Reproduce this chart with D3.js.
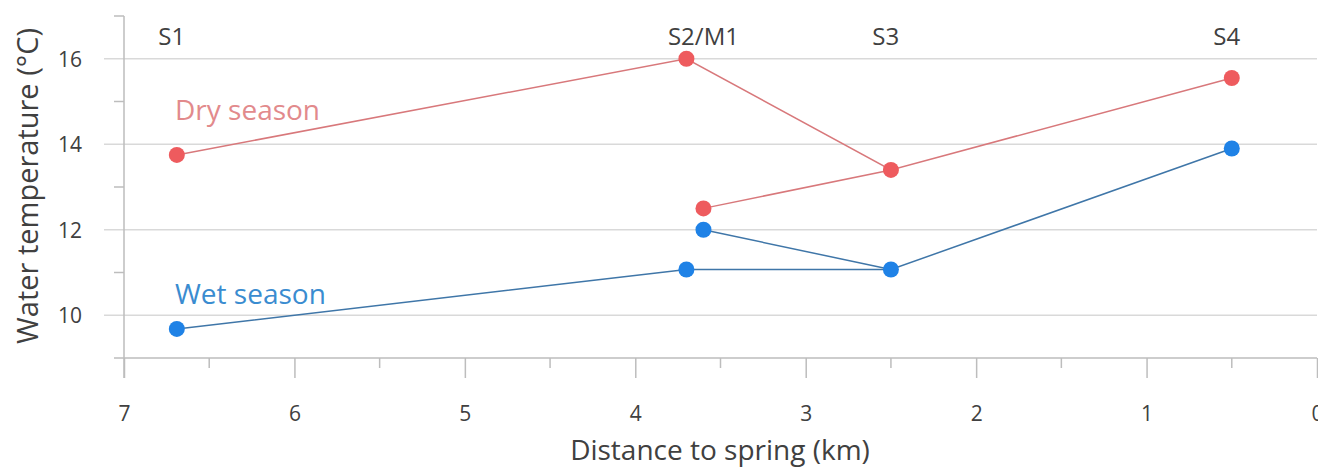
<!DOCTYPE html>
<html>
<head>
<meta charset="utf-8">
<script src="https://cdn.jsdelivr.net/npm/d3@7"></script>
<style>
  html, body { margin: 0; padding: 0; background: #fff; overflow: hidden; }
  svg { display: block; font-family: "Open Sans", Lato, sans-serif; }
</style>
</head>
<body>
<svg id="chart" width="1318" height="468"></svg>
<script>
// ---- data ----
const sites = ["S1", "S2/M1", "S3", "S4"];
const siteDistance = [6.69, 3.7, 2.5, 0.5];
const siteLabelDistance = [6.72, 3.6, 2.53, 0.53];
const dryMain = [13.75, 16.0, 13.4, 15.55];
const wetMain = [9.68, 11.07, 11.07, 13.9];
const m1Distance = 3.6;
const dryM1 = 12.5;
const wetM1 = 12.0;
const xTicks = [7, 6, 5, 4, 3, 2, 1, 0];
const xMinorTicks = [6.5, 5.5, 4.5, 3.5, 2.5, 1.5, 0.5];
const yTicks = [10, 12, 14, 16];
const yMinorTicks = [11, 13, 15];
const seriesNames = ["Dry season", "Wet season"];

// ---- layout ----
const svg = d3.select("#chart");
const x = d3.scaleLinear().domain([7, 0]).range([124, 1317]);
const y = d3.scaleLinear().domain([9, 17]).range([358, 16]);

const dryColor = "#ee5b5e", dryLine = "#d8787b", dryText = "#e28a8c";
const wetColor = "#1f82e6", wetLine = "#3f76a8", wetText = "#3a8cd0";
const axisColor = "#bdbdbd", gridColor = "#d9d9d9", textColor = "#404040";
const font = "'Open Sans', Lato, sans-serif";

// gridlines
svg.append("g")
  .selectAll("line").data(yTicks).join("line")
  .attr("x1", x(7) - 20).attr("x2", x(0))
  .attr("y1", d => y(d)).attr("y2", d => y(d))
  .attr("stroke", gridColor).attr("stroke-width", 1.5);

// y axis
const yAxis = d3.axisLeft(y).tickValues(yTicks).tickSize(0).tickPadding(0)
  .tickFormat(d3.format("d"));
const gy = svg.append("g").attr("transform", `translate(${x(7)},0)`).call(yAxis);
gy.select(".domain").remove();
gy.selectAll("text").attr("x", -42).attr("dy", "0.35em")
  .attr("fill", textColor).style("font-size", "21px").style("font-family", font);
svg.append("line").attr("x1", x(7)).attr("x2", x(7)).attr("y1", y(17)).attr("y2", 378)
  .attr("stroke", axisColor).attr("stroke-width", 1.5);
svg.append("g").selectAll("line").data(yMinorTicks.concat([17])).join("line")
  .attr("x1", x(7) - 10).attr("x2", x(7))
  .attr("y1", d => y(d)).attr("y2", d => y(d))
  .attr("stroke", axisColor).attr("stroke-width", 1.5);

// x axis
const xAxis = d3.axisBottom(x).tickValues(xTicks).tickSize(20).tickPadding(28)
  .tickFormat(d3.format("d"));
const gx = svg.append("g").attr("transform", `translate(0,${y(9)})`).call(xAxis);
gx.select(".domain").remove();
gx.selectAll(".tick line").attr("stroke", axisColor).attr("stroke-width", 1.5);
gx.selectAll("text").attr("fill", textColor).style("font-size", "21px")
  .style("font-family", font);
svg.append("line").attr("x1", x(7) - 10).attr("x2", x(0))
  .attr("y1", y(9)).attr("y2", y(9)).attr("stroke", axisColor).attr("stroke-width", 1.5);
svg.append("g").selectAll("line").data(xMinorTicks).join("line")
  .attr("x1", d => x(d)).attr("x2", d => x(d))
  .attr("y1", y(9)).attr("y2", y(9) + 10)
  .attr("stroke", axisColor).attr("stroke-width", 1.5);

// axis titles
svg.append("text").attr("x", 720).attr("y", 460).attr("text-anchor", "middle")
  .attr("fill", textColor).style("font-size", "28px").text("Distance to spring (km)");
svg.append("text").attr("transform", `translate(38,${186}) rotate(-90)`)
  .attr("text-anchor", "middle").attr("fill", textColor).style("font-size", "29px")
  .text("Water temperature (\u00B0C)");

// site labels
svg.append("g").selectAll("text").data(sites).join("text")
  .attr("x", (d, i) => x(siteLabelDistance[i])).attr("y", 45)
  .attr("text-anchor", "middle").attr("fill", textColor).style("font-size", "24px")
  .text(d => d);

// lines
const line = d3.line().x(d => x(d[0])).y(d => y(d[1]));
function drawSeries(main, m1, lc, mc) {
  const pts = siteDistance.map((d, i) => [d, main[i]]);
  svg.append("path").datum(pts).attr("d", line).attr("fill", "none")
    .attr("stroke", lc).attr("stroke-width", 1.5);
  svg.append("path").datum([[m1Distance, m1], [siteDistance[2], main[2]]]).attr("d", line)
    .attr("fill", "none").attr("stroke", lc).attr("stroke-width", 1.5);
  const all = pts.concat([[m1Distance, m1]]);
  svg.append("g").selectAll("circle").data(all).join("circle")
    .attr("cx", d => x(d[0])).attr("cy", d => y(d[1])).attr("r", 8)
    .attr("fill", mc);
}
drawSeries(dryMain, dryM1, dryLine, dryColor);
drawSeries(wetMain, wetM1, wetLine, wetColor);

// series labels
svg.append("text").attr("x", 175).attr("y", 120).attr("fill", dryText)
  .style("font-size", "28px").text(seriesNames[0]);
svg.append("text").attr("x", 175).attr("y", 304).attr("fill", wetText)
  .style("font-size", "28px").text(seriesNames[1]);
</script>
</body>
</html>
